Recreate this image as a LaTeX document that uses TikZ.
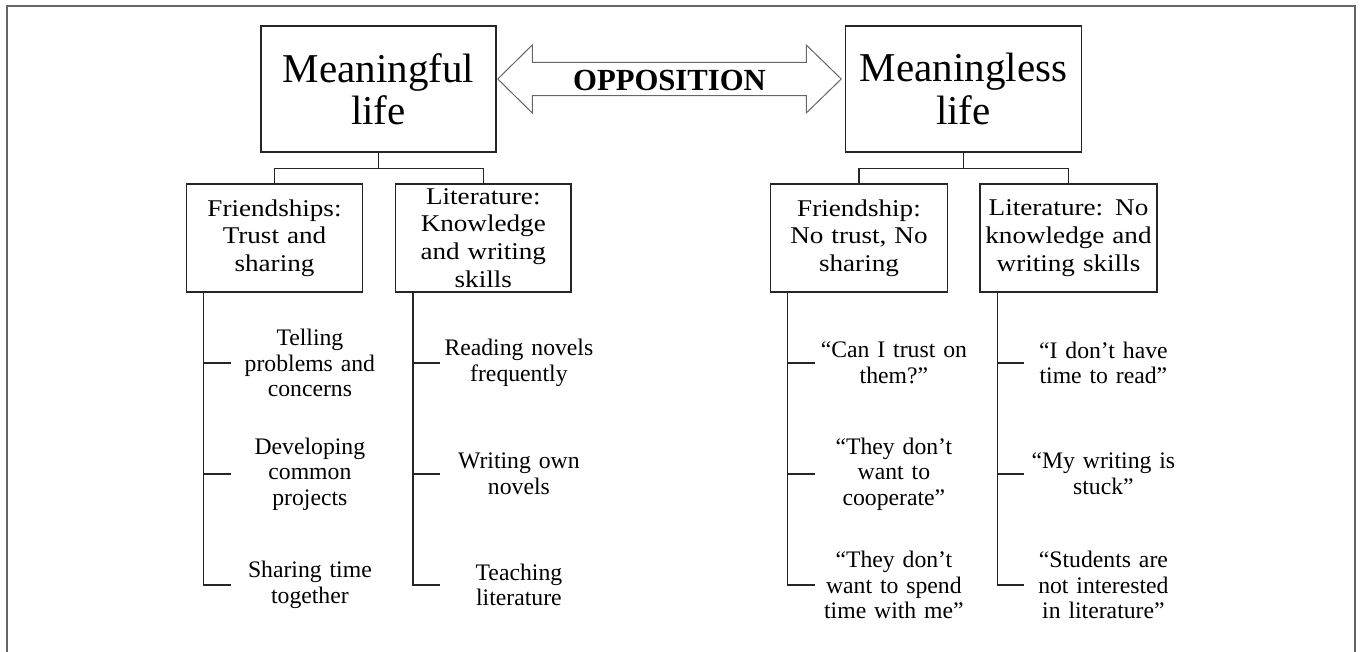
\documentclass[tikz,border=0pt]{standalone}
\usepackage{fontspec}
\setmainfont{Liberation Serif}
\newfontfamily\boxfont[FakeStretch=1.13]{Liberation Serif}
\usetikzlibrary{calc}
\tikzset{
  titlebox/.style={draw=black!85, line width=0.75pt, inner sep=0pt, align=center,
    font=\fontsize{20.5pt}{21.2pt}\selectfont},
  catbox/.style={draw=black!85, line width=0.75pt, inner sep=0pt, align=center,
    minimum height=54pt, font=\boxfont\fontsize{12pt}{13.85pt}\selectfont},
  leaf/.style={anchor=west, inner sep=0pt, align=center, text width=79pt,
    font=\fontsize{11.85pt}{12.85pt}\selectfont},
  link/.style={draw=black!85, line width=0.7pt},
  oppo/.style={draw=black!60, line width=0.5pt, fill=white},
}
\begin{document}
\begin{tikzpicture}[x=0.5pt,y=-0.5pt]
\useasboundingbox (0,0) rectangle (1360,652);
% outer frame (open at the bottom)
\draw[draw=black!60, line width=1pt] (7,652) -- (7,6) -- (1355,6) -- (1355,652);

% title boxes
\node[titlebox, minimum width=117.5pt, minimum height=63pt, text width=117.5pt] (ml) at (378.5,89) {Meaningful\\life};
\node[titlebox, minimum width=118pt, minimum height=63pt, text width=118pt] (mls) at (963.5,89) {Meaningless\\life};

% opposition double arrow
\coordinate (aL) at ($(ml.east)+(1,-10)$);
\coordinate (aR) at ($(mls.west)+(-3.5,-10)$);
\draw[oppo] (aL) -- ++(34.5,-34) -- ++(0,17.3) -- ($(aR)+(-35,-16.7)$) -- ++(0,-17.3)
  -- (aR) -- ++(-35,34) -- ++(0,-17.3) -- ($(aL)+(34.5,16.7)$) -- ++(0,17.3) -- cycle;
\node[font=\bfseries\fontsize{15.35pt}{16pt}\selectfont, inner sep=0pt] (opp) at ($(aL)!0.5!(aR)+(0,1)$) {OPPOSITION};

% category boxes
\node[catbox, minimum width=88pt, text width=88pt] (f1) at (274.5,238) {Friendships:\\Trust and\\sharing};
\node[catbox, minimum width=87.75pt, text width=87.75pt] (l1) at (483.3,238) {Literature:\\Knowledge\\and writing\\skills};
\node[catbox, minimum width=88.5pt, text width=88.5pt] (f2) at (859,238) {Friendship:\\No trust, No\\sharing};
\node[catbox, minimum width=88.5pt, text width=88.5pt] (l2) at (1068.5,238) {Literature: No\\knowledge and\\writing skills};

% tree connectors
\draw[link] (ml.south) -- ++(0,16) -| (f1.north);
\draw[link] (ml.south) -- ++(0,16) -| (l1.north);
\draw[link] (mls.south) -- ++(0,16) -| (f2.north);
\draw[link] (mls.south) -- ++(0,16) -| (l2.north);

% leaves
\node[leaf] (t1) at (230.5,363) {Telling\\problems and\\concerns};
\node[leaf] (t2) at (230.5,474) {Developing\\common\\projects};
\node[leaf] (t3) at (230.5,585) {Sharing time\\together};
\node[leaf] (u1) at (439.5,363) {Reading novels\\frequently};
\node[leaf] (u2) at (439.5,474) {Writing own\\novels};
\node[leaf] (u3) at (439.5,585) {Teaching\\literature};
\node[leaf] (v1) at (814.5,363) {“Can I trust on\\them?”};
\node[leaf] (v2) at (814.5,474) {“They don’t\\want to\\cooperate”};
\node[leaf] (v3) at (814.5,585) {“They don’t\\want to spend\\time with me”};
\node[leaf] (w1) at (1024,363) {“I don’t have\\time to read”};
\node[leaf] (w2) at (1024,474) {“My writing is\\stuck”};
\node[leaf] (w3) at (1024,585) {“Students are\\not interested\\in literature”};

% trunks
\coordinate (f1b) at ($(f1.south west)+(18,0)$);
\coordinate (l1b) at ($(l1.south west)+(18,0)$);
\coordinate (f2b) at ($(f2.south west)+(18,0)$);
\coordinate (l2b) at ($(l2.south west)+(18,0)$);
\draw[link] (f1b) |- (t3.west);
\draw[link] (f1b |- t1.west) -- (t1.west);
\draw[link] (f1b |- t2.west) -- (t2.west);
\draw[link] (l1b) |- (u3.west);
\draw[link] (l1b |- u1.west) -- (u1.west);
\draw[link] (l1b |- u2.west) -- (u2.west);
\draw[link] (f2b) |- (v3.west);
\draw[link] (f2b |- v1.west) -- (v1.west);
\draw[link] (f2b |- v2.west) -- (v2.west);
\draw[link] (l2b) |- (w3.west);
\draw[link] (l2b |- w1.west) -- (w1.west);
\draw[link] (l2b |- w2.west) -- (w2.west);
\end{tikzpicture}
\end{document}
